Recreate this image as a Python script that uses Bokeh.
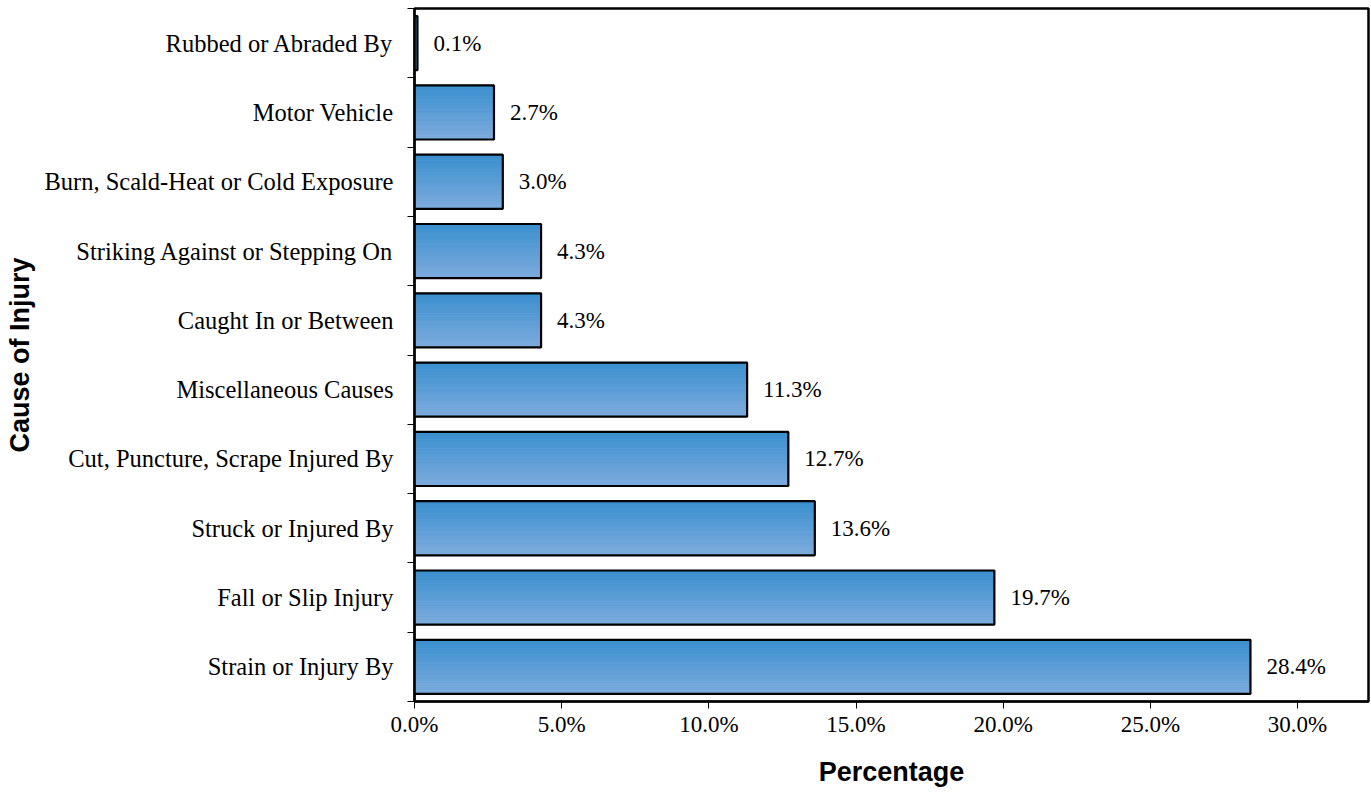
from bokeh.plotting import figure
from bokeh.models import ColumnDataSource, FixedTicker, Range1d
from bokeh.core.properties import value
from bokeh.embed import file_html
from bokeh.resources import INLINE

# ---- data (bottom to top) ----
causes = [
    "Strain or Injury By",
    "Fall or Slip Injury",
    "Struck or Injured By",
    "Cut, Puncture, Scrape Injured By",
    "Miscellaneous Causes",
    "Caught In or Between",
    "Striking Against or Stepping On",
    "Burn, Scald-Heat or Cold Exposure",
    "Motor Vehicle",
    "Rubbed or Abraded By",
]
percent = [28.4, 19.7, 13.6, 12.7, 11.3, 4.3, 4.3, 3.0, 2.7, 0.1]
x_ticks = [0, 5, 10, 15, 20, 25, 30]
x_tick_labels = ["0.0%", "5.0%", "10.0%", "15.0%", "20.0%", "25.0%", "30.0%"]

SERIF = "Liberation Serif"
SANS = "Liberation Sans"
BAR_H = 0.78
N_STRIPS = 30
TOP_RGB = (58, 143, 206)
BOT_RGB = (124, 171, 221)

pos = list(range(len(causes)))

p = figure(width=1371, height=792, output_backend="svg", toolbar_location=None,
           x_range=Range1d(0, 32.41), y_range=Range1d(-0.5, len(causes) - 0.5),
           min_border_left=414, min_border_right=3, min_border_top=8, min_border_bottom=91)
p.background_fill_color = "white"
p.border_fill_color = "white"
p.outline_line_color = "black"
p.outline_line_width = 2.5
p.xgrid.visible = False
p.ygrid.visible = False

# gradient strips (smooth vertical gradient inside each bar)
sx, sy, sc = [], [], []
for i, v in zip(pos, percent):
    for k in range(N_STRIPS):
        t = k / (N_STRIPS - 1)
        r = round(TOP_RGB[0] + (BOT_RGB[0] - TOP_RGB[0]) * t)
        g = round(TOP_RGB[1] + (BOT_RGB[1] - TOP_RGB[1]) * t)
        b = round(TOP_RGB[2] + (BOT_RGB[2] - TOP_RGB[2]) * t)
        sx.append(v)
        sy.append(i + BAR_H / 2 - (k + 0.5) * BAR_H / N_STRIPS)
        sc.append("#%02x%02x%02x" % (r, g, b))
strips = ColumnDataSource(dict(x=sx, y=sy, c=sc))
p.hbar(y="y", right="x", left=0, height=BAR_H / N_STRIPS, fill_color="c",
       line_color="c", line_width=1, source=strips)

src = ColumnDataSource(dict(y=pos, x=percent, lab=["%.1f%%" % v for v in percent]))
p.hbar(y="y", right="x", left=0, height=BAR_H, fill_color=None,
       line_color="black", line_width=2.2, source=src)

p.text(x="x", y="y", text="lab", source=src, x_offset=16, text_baseline="middle",
       text_align="left", text_font=value(SERIF), text_font_size="23px", text_color="black")

# x axis
xa = p.xaxis[0]
xa.ticker = FixedTicker(ticks=x_ticks)
xa.major_label_overrides = {t: l for t, l in zip(x_ticks, x_tick_labels)}
xa.major_label_text_font = SERIF
xa.major_label_text_font_size = "23px"
xa.major_label_text_color = "black"
xa.major_tick_out = 7
xa.major_tick_in = 0
xa.minor_tick_out = 0
xa.minor_tick_in = 0
xa.major_tick_line_color = "black"
xa.axis_line_color = "black"
xa.axis_line_width = 2
xa.major_label_standoff = 3
xa.axis_label = "Percentage"
xa.axis_label_text_font = SANS
xa.axis_label_text_font_style = "bold"
xa.axis_label_text_font_size = "27px"
xa.axis_label_text_color = "black"
xa.axis_label_standoff = 17

# y axis
ya = p.yaxis[0]
ya.ticker = FixedTicker(ticks=pos, minor_ticks=[i - 0.5 for i in range(len(causes) + 1)])
ya.major_label_overrides = {i: c for i, c in zip(pos, causes)}
ya.major_label_text_font = SERIF
ya.major_label_text_font_size = "24.5px"
ya.major_label_text_color = "black"
ya.major_tick_out = 0
ya.major_tick_in = 0
ya.minor_tick_out = 7
ya.minor_tick_in = 0
ya.minor_tick_line_color = "black"
ya.axis_line_color = "black"
ya.axis_line_width = 2
ya.major_label_standoff = 14
ya.axis_label = "Cause of Injury"
ya.axis_label_text_font = SANS
ya.axis_label_text_font_style = "bold"
ya.axis_label_text_font_size = "27px"
ya.axis_label_text_color = "black"
ya.axis_label_standoff = 6

open("out.html", "w").write(file_html(p, INLINE))
